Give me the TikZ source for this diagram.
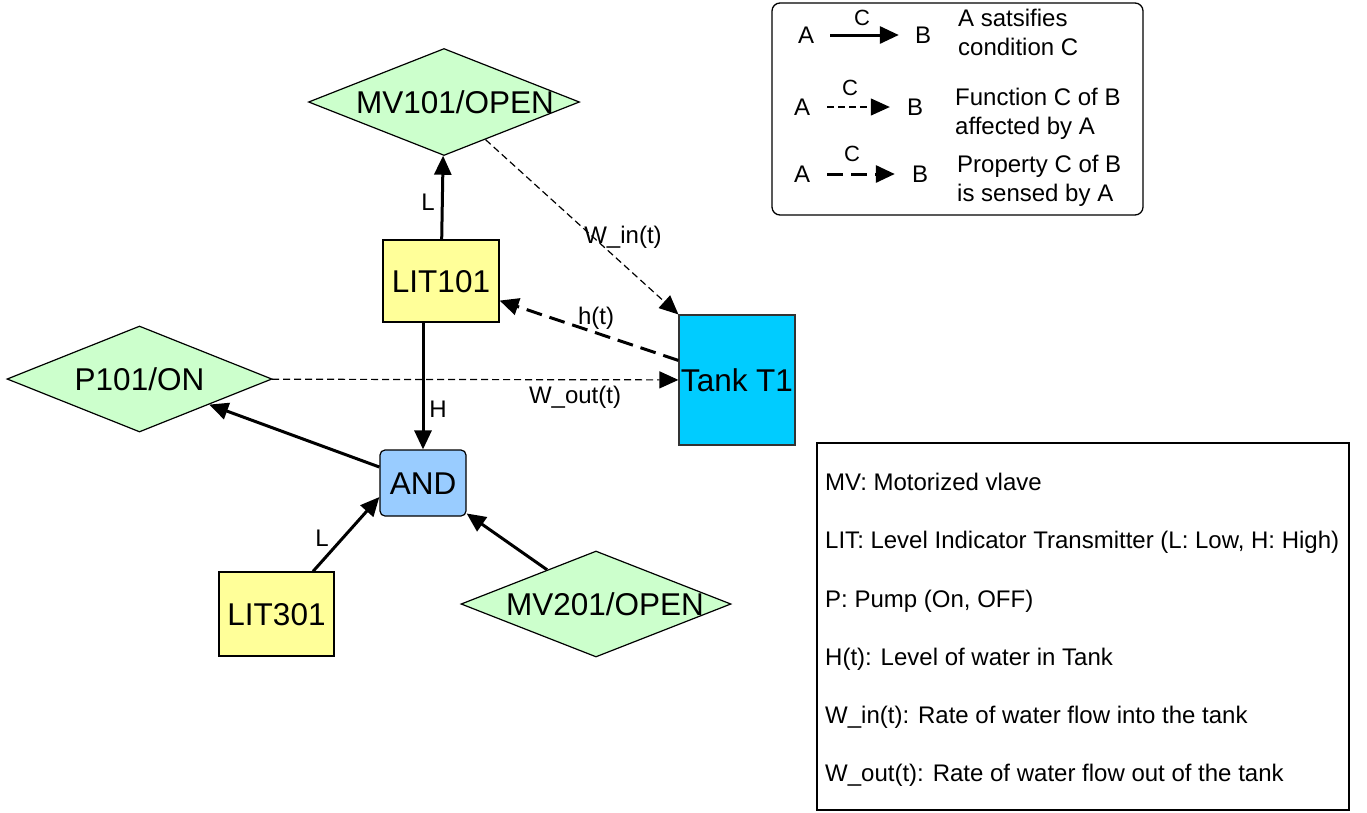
\documentclass[tikz,border=0pt]{standalone}
\usepackage{fontspec}
\setmainfont{Liberation Sans}
\usetikzlibrary{shapes.geometric,arrows.meta}
\definecolor{stategreen}{HTML}{CCFFCC}
\definecolor{sensoryellow}{HTML}{FFFF99}
\definecolor{gateblue}{HTML}{99CCFF}
\definecolor{tankcyan}{HTML}{00CCFF}
\newcommand{\statetext}[2][0pt]{\makebox[0pt]{\hspace*{#1}#2}}
\tikzset{
  nodefont/.style={font=\fontsize{31.5}{37}\selectfont, text height=22.5pt, text depth=0pt},
  txt/.style={font=\fontsize{24}{29}\selectfont, text height=17.3pt, text depth=0pt, inner sep=0pt},
  ctxt/.style={font=\fontsize{22}{26}\selectfont, text height=15.8pt, text depth=0pt, inner sep=0pt},
  statebox/.style={diamond, draw=black, line width=1.2pt, fill=stategreen, inner sep=0pt, nodefont},
  sensorbox/.style={rectangle, draw=black, line width=1.2pt, fill=sensoryellow, inner sep=0pt, nodefont},
  gatebox/.style={rectangle, rounded corners=5pt, draw=black, line width=1.2pt, fill=gateblue, inner sep=0pt, nodefont},
  tankbox/.style={rectangle, draw=black!80, line width=1.2pt, fill=tankcyan, inner sep=0pt, nodefont},
  tip/.style={-{Triangle[length=19pt,width=17pt]}},
  cond/.style={tip, line width=3pt},
  affect/.style={tip, line width=1.2pt, dash pattern=on 7pt off 4pt},
  sensed/.style={tip, line width=3pt, dash pattern=on 16pt off 8pt},
  frame/.style={draw=black, line width=1.3pt},
}
\begin{document}
\begin{tikzpicture}[x=1pt, y=-1pt]
\useasboundingbox (0,0) rectangle (1367,812);

% process states, sensors, logic gate and the tank
\node[statebox, minimum width=271pt, minimum height=107pt] (mv101) at (444,102) {\statetext[22pt]{MV101/OPEN}};
\node[statebox, minimum width=265pt, minimum height=106pt] (p101) at (139.5,379) {\statetext{P101/ON}};
\node[statebox, minimum width=270pt, minimum height=106pt] (mv201) at (596,604) {\statetext[18pt]{MV201/OPEN}};
\node[sensorbox, minimum width=116pt, minimum height=82pt] (lit101) at (441,281) {LIT101};
\node[sensorbox, minimum width=115pt, minimum height=84pt] (lit301) at (276.5,614) {LIT301};
\node[gatebox, minimum width=86pt, minimum height=66pt] (and) at (423,483) {AND};
\node[tankbox, minimum width=116pt, minimum height=130pt] (tank) at (737,380) {Tank T1};

% condition edges
\draw[cond] (lit101) -- (mv101);
\draw[cond] (lit101.south -| and.north) -- (and.north);
\draw[cond] (and) -- (p101);
\draw[cond] ([xshift=36.5pt]lit301.north) -- ([yshift=-14pt]and.west);
\draw[cond] (mv201) -- (and);

% physical influence and sensing
\draw[affect] (mv101) -- (tank.north west);
\draw[affect] (p101) -- (tank);
\draw[sensed] (tank) -- (lit101);

% edge labels
\node[txt] (lblL1) at (428,202) {L};
\node[txt] (lblH) at (438,409) {H};
\node[txt] (lblL2) at (322,538) {L};
\node[txt] (lblwin) at (623,235) {W\_in(t)};
\node[txt] (lblh) at (596,316) {h(t)};
\node[txt] (lblwout) at (575,395) {W\_out(t)};

% legend
\draw[frame, rounded corners=8pt] (772,3) rectangle (1143,215);
\node[txt] (a1) at (806,35) {A};
\node[txt] (b1) at (923,35) {B};
\draw[cond, shorten <=16pt, shorten >=16pt] (a1) -- (b1);
\node[ctxt] (c1) at (862,18) {C};
\node[txt] (a2) at (802,107) {A};
\node[txt] (b2) at (915,107) {B};
\draw[affect, shorten <=17pt, shorten >=17pt] (a2) -- (b2);
\node[ctxt] (c2) at (850,88) {C};
\node[txt] (a3) at (802,174) {A};
\node[txt] (b3) at (920,174) {B};
\draw[sensed, shorten <=17pt, shorten >=17pt] (a3) -- (b3);
\node[ctxt] (c3) at (852,154) {C};
\node[txt, anchor=west] (d1a) at (958,18) {A satsifies};
\node[txt, anchor=west] (d1b) at (958,47) {condition C};
\node[txt, anchor=west] (d2a) at (955,97) {Function C of B};
\node[txt, anchor=west] (d2b) at (955,126) {affected by A};
\node[txt, anchor=west] (d3a) at (957,164) {Property C of B};
\node[txt, anchor=west] (d3b) at (957,193) {is sensed by A};

% abbreviations
\draw[frame] (817,443) rectangle (1349,810);
\node[txt, anchor=west] (n1) at (825,482) {MV: Motorized vlave};
\node[txt, anchor=west] (n2) at (825,540) {LIT: Level Indicator Transmitter (L: Low, H: High)};
\node[txt, anchor=west] (n3) at (825,599) {P: Pump (On, OFF)};
\node[txt, anchor=west] (n4) at (825,657) {H(t): Level of water in Tank};
\node[txt, anchor=west] (n5) at (825,715) {W\_in(t): Rate of water flow into the tank};
\node[txt, anchor=west] (n6) at (825,773) {W\_out(t): Rate of water flow out of the tank};
\end{tikzpicture}
\end{document}
